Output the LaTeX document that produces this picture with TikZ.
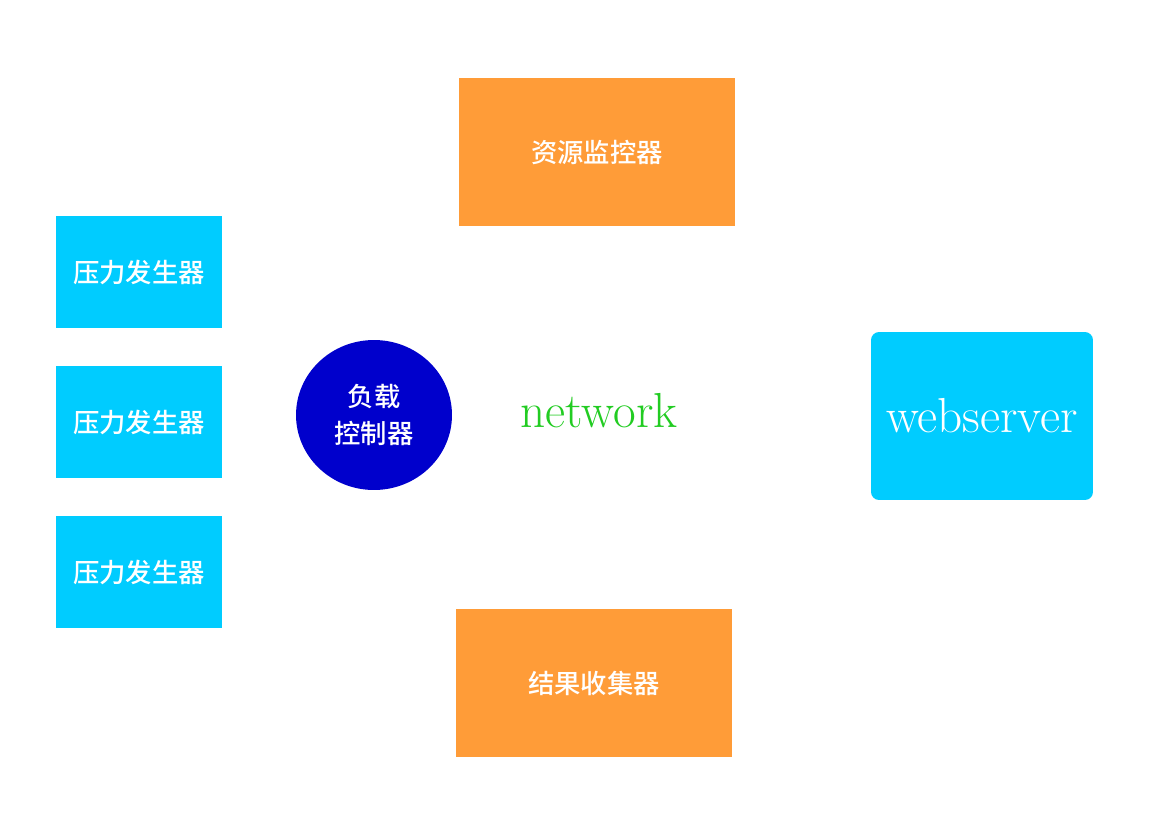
\documentclass[tikz,border=0pt]{standalone}
\usepackage{fontspec}
\newfontfamily\cjk{Noto Sans CJK SC Medium}
\usetikzlibrary{shapes.geometric}
\definecolor{skyblue}{HTML}{00CCFF}
\definecolor{darkblue}{HTML}{0000CC}
\definecolor{orangebox}{HTML}{FF9C38}
\definecolor{netgreen}{HTML}{22CC22}
\tikzset{gen/.style = {fill=skyblue, text=white, minimum width=3.32cm, minimum height=2.26cm, inner sep=0pt, font=\cjk\fontsize{15}{18}\selectfont},
         mon/.style = {fill=orangebox, text=white, minimum width=5.52cm, minimum height=2.98cm, inner sep=0pt, font=\cjk\fontsize{15}{18}\selectfont},
         ctl/.style = {ellipse, fill=darkblue, text=white, minimum width=3.12cm, minimum height=3.0cm, inner sep=0pt, align=center, font=\cjk\fontsize{15}{21}\selectfont},
         srv/.style = {fill=skyblue, text=white, rounded corners=0.16cm, minimum width=4.44cm, minimum height=3.36cm, inner sep=0pt, font=\fontsize{28}{32}\selectfont}}
\begin{document}
\begin{tikzpicture}[x=0.02cm, y=-0.02cm]
    \useasboundingbox[fill=white] (0,0) rectangle (1160,822);
    \node[gen] (g1) at (139,272) {压力发生器};
    \node[gen] (g2) at (139,422) {压力发生器};
    \node[gen] (g3) at (139,572) {压力发生器};
    \node[ctl] (ctl) at (374,415) {负载\\控制器};
    \node[mon] (mon) at (597,152) {资源监控器};
    \node[mon] (col) at (594,683) {结果收集器};
    \node[text=netgreen, font=\fontsize{28}{32}\selectfont] (net) at (599,411) {network};
    \node[srv] (srv) at (982,416) {webserver};
\end{tikzpicture}
\end{document}
